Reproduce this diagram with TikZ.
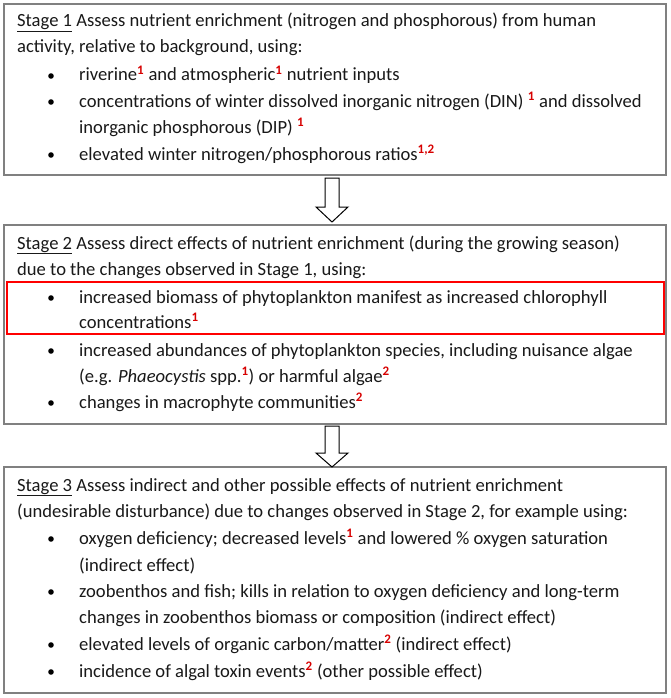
\documentclass[tikz,border=0pt]{standalone}
\usepackage{fontspec}
\setmainfont{Carlito}
\definecolor{boxgray}{RGB}{128,128,128}
\definecolor{supred}{RGB}{215,0,0}
\definecolor{txt}{RGB}{25,25,25}
\newcommand{\sref}[1]{\textsuperscript{\textcolor{supred}{\textbf{#1}}}}
\newcommand{\stg}[1]{\underline{Stage #1}}
\begin{document}
\begin{tikzpicture}[x=1pt,y=-1pt,
  stagebox/.style={draw=boxgray, line width=1.4pt, anchor=north west, minimum width=662pt, inner sep=0pt, outer sep=0pt},
  hilite/.style={draw=red, line width=2.4pt, anchor=north west, minimum width=657pt, minimum height=52pt, inner sep=0pt, outer sep=0pt},
  ln/.style={anchor=base west, inner sep=0pt, text=txt, font=\fontsize{18.6}{22}\selectfont},
  dot/.style={circle, fill=black, inner sep=0pt, minimum size=5.6pt},
  blockarrow/.style={draw=black, fill=white, line width=1pt, line join=miter}]
\useasboundingbox (0,0) rectangle (671,698);
\fill[white] (0,0) rectangle (671,698);
% boxes
\node[stagebox, minimum height=171pt] (b1) at (4,4) {};
\node[stagebox, minimum height=199pt] (b2) at (4,225) {};
\node[stagebox, minimum height=226pt] (b3) at (4,467) {};
\node[hilite] (hl) at (7,282) {};
% arrows
\draw[blockarrow] ([shift={(-10,3)}]b1.south) -- ([shift={(4,3)}]b1.south) -- ([shift={(4,-18)}]b2.north) -- ([shift={(13,-18)}]b2.north) -- ([shift={(-3,-3)}]b2.north) -- ([shift={(-19,-18)}]b2.north) -- ([shift={(-10,-18)}]b2.north) -- cycle;
\draw[blockarrow] ([shift={(-10,2)}]b2.south) -- ([shift={(4,2)}]b2.south) -- ([shift={(4,-14)}]b3.north) -- ([shift={(13,-14)}]b3.north) -- ([shift={(-3,0)}]b3.north) -- ([shift={(-19,-14)}]b3.north) -- ([shift={(-10,-14)}]b3.north) -- cycle;
% stage 1
\node[ln] (t11) at (17,27) {\stg{1} Assess nutrient enrichment (nitrogen and phosphorous) from human};
\node[ln] (t12) at (17,53) {activity, relative to background, using:};
\node[dot] (d11) at (51,76) {};
\node[ln] (t13) at (79,81) {riverine\sref{1} and atmospheric\sref{1} nutrient inputs};
\node[dot] (d12) at (51,102) {};
\node[ln] (t14) at (79,107) {concentrations of winter dissolved inorganic nitrogen (DIN) \sref{1} and dissolved};
\node[ln] (t15) at (79,133) {inorganic phosphorous (DIP) \sref{1}};
\node[dot] (d13) at (51,155) {};
\node[ln] (t16) at (79,160) {elevated winter nitrogen/phosphorous ratios\sref{1,2}};
% stage 2
\node[ln] (t21) at (17,249) {\stg{2} Assess direct effects of nutrient enrichment (during the growing season)};
\node[ln] (t22) at (17,275) {due to the changes observed in Stage 1, using:};
\node[dot] (d21) at (51,298) {};
\node[ln] (t23) at (79,303) {increased biomass of phytoplankton manifest as increased chlorophyll};
\node[ln] (t24) at (79,328) {concentrations\sref{1}};
\node[dot] (d22) at (51,351) {};
\node[ln] (t25) at (79,356) {increased abundances of phytoplankton species, including nuisance algae};
\node[ln] (t26) at (79,382) {(e.g. \textit{Phaeocystis} spp.\sref{1}) or harmful algae\sref{2}};
\node[dot] (d23) at (51,403) {};
\node[ln] (t27) at (79,408) {changes in macrophyte communities\sref{2}};
% stage 3
\node[ln] (t31) at (17,491) {\stg{3} Assess indirect and other possible effects of nutrient enrichment};
\node[ln] (t32) at (17,517) {(undesirable disturbance) due to changes observed in Stage 2, for example using:};
\node[dot] (d31) at (51,539) {};
\node[ln] (t33) at (79,544) {oxygen deficiency; decreased levels\sref{1} and lowered \% oxygen saturation};
\node[ln] (t34) at (79,571) {(indirect effect)};
\node[dot] (d32) at (51,592) {};
\node[ln] (t35) at (79,597) {zoobenthos and fish; kills in relation to oxygen deficiency and long-term};
\node[ln] (t36) at (79,623) {changes in zoobenthos biomass or composition (indirect effect)};
\node[dot] (d33) at (51,645) {};
\node[ln] (t37) at (79,650) {elevated levels of organic carbon/matter\sref{2} (indirect effect)};
\node[dot] (d34) at (51,672) {};
\node[ln] (t38) at (79,677) {incidence of algal toxin events\sref{2} (other possible effect)};
\end{tikzpicture}
\end{document}
